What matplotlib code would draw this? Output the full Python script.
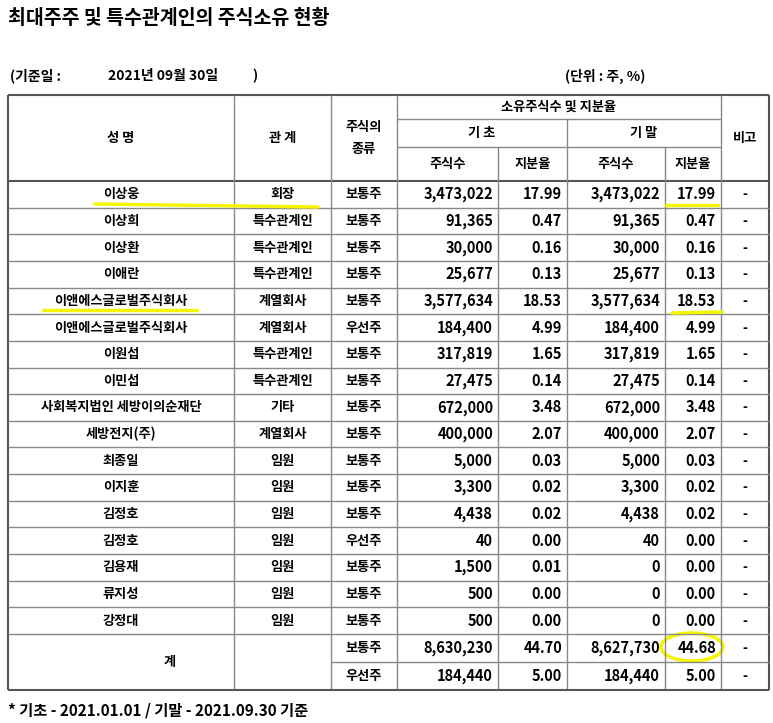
import matplotlib.pyplot as plt
from matplotlib.patches import Ellipse

plt.rcParams['font.family'] = ['Noto Sans CJK KR', 'Noto Sans CJK JP', 'Noto Sans CJK SC', 'DejaVu Sans']

names = ['이상웅', '이상희', '이상환', '이애란', '이앤에스글로벌주식회사', '이앤에스글로벌주식회사',
         '이원섭', '이민섭', '사회복지법인 세방이의순재단', '세방전지(주)', '최종일', '이지훈',
         '김정호', '김정호', '김용재', '류지성', '강정대']
relations = ['회장', '특수관계인', '특수관계인', '특수관계인', '계열회사', '계열회사', '특수관계인',
             '특수관계인', '기타', '계열회사', '임원', '임원', '임원', '임원', '임원', '임원', '임원']
kinds = ['보통주', '보통주', '보통주', '보통주', '보통주', '우선주', '보통주', '보통주', '보통주',
         '보통주', '보통주', '보통주', '보통주', '우선주', '보통주', '보통주', '보통주']
start_shares = [3473022, 91365, 30000, 25677, 3577634, 184400, 317819, 27475, 672000,
                400000, 5000, 3300, 4438, 40, 1500, 500, 500]
start_pct = [17.99, 0.47, 0.16, 0.13, 18.53, 4.99, 1.65, 0.14, 3.48, 2.07, 0.03, 0.02,
             0.02, 0.00, 0.01, 0.00, 0.00]
end_shares = [3473022, 91365, 30000, 25677, 3577634, 184400, 317819, 27475, 672000,
              400000, 5000, 3300, 4438, 40, 0, 0, 0]
end_pct = [17.99, 0.47, 0.16, 0.13, 18.53, 4.99, 1.65, 0.14, 3.48, 2.07, 0.03, 0.02,
           0.02, 0.00, 0.00, 0.00, 0.00]
total_kinds = ['보통주', '우선주']
total_start_shares = [8630230, 184440]
total_start_pct = [44.70, 5.00]
total_end_shares = [8627730, 184440]
total_end_pct = [44.68, 5.00]

W, H = 773, 723
fig = plt.figure(figsize=(W / 100, H / 100), dpi=100)
ax = fig.add_axes([0, 0, 1, 1])
ax.set_xlim(0, W)
ax.set_ylim(H, 0)
ax.axis('off')

# column edges and rows
xs = [8, 234, 331, 397, 498, 567, 665, 721, 769]
top, hdr = 95, 181
step = (634 - hdr) / 17
row_y = [hdr + i * step for i in range(18)]
tot_y = [634, 662, 690]

line = dict(color='#888888', lw=1.0)
fs = 9.5

ax.text(8, 18, '최대주주 및 특수관계인의 주식소유 현황', fontsize=14, fontweight='bold', va='center')
ax.text(10, 76, '(기준일 :', fontsize=10, fontweight='bold', va='center')
ax.text(108, 76, '2021년 09월 30일', fontsize=10, fontweight='bold', va='center')
ax.text(252, 76, ')', fontsize=10, fontweight='bold', va='center')
ax.text(645, 76, '(단위 : 주, %)', fontsize=10, fontweight='bold', va='center', ha='right')

# header
h1, h2 = top + (hdr - top) * 0.28, top + (hdr - top) * 0.6
ax.hlines(top, xs[0], xs[-1], color='#555555', lw=1.5)
ax.hlines(h1, xs[3], xs[7], **line)
ax.hlines(h2, xs[3], xs[7], **line)
ax.hlines(hdr, xs[0], xs[-1], color='#555555', lw=1.5)
for x in [xs[1], xs[2], xs[3], xs[7]]:
    ax.vlines(x, top, tot_y[-1], **line)
ax.vlines(xs[5], h1, tot_y[-1], **line)
for x in [xs[4], xs[6]]:
    ax.vlines(x, h2, tot_y[-1], **line)
ax.vlines(xs[0], top, tot_y[-1], color='#555555', lw=1.5)
ax.vlines(xs[-1], top, tot_y[-1], color='#555555', lw=1.5)

def cx(i):
    return (xs[i] + xs[i + 1]) / 2

mid = (top + hdr) / 2
ax.text(cx(0), mid, '성 명', ha='center', va='center', fontsize=fs, fontweight='bold')
ax.text(cx(1), mid, '관 계', ha='center', va='center', fontsize=fs, fontweight='bold')
ax.text(cx(2), mid, '주식의\n종류', ha='center', va='center', fontsize=fs, fontweight='bold', linespacing=1.8)
ax.text(cx(7), mid, '비고', ha='center', va='center', fontsize=fs, fontweight='bold')
ax.text((xs[3] + xs[7]) / 2, (top + h1) / 2, '소유주식수 및 지분율', ha='center', va='center', fontsize=fs, fontweight='bold')
ax.text((xs[3] + xs[5]) / 2, (h1 + h2) / 2, '기 초', ha='center', va='center', fontsize=fs, fontweight='bold')
ax.text((xs[5] + xs[7]) / 2, (h1 + h2) / 2, '기 말', ha='center', va='center', fontsize=fs, fontweight='bold')
for i, t in zip(range(3, 7), ['주식수', '지분율', '주식수', '지분율']):
    ax.text(cx(i), (h2 + hdr) / 2, t, ha='center', va='center', fontsize=fs, fontweight='bold')

def num(v):
    return f'{v:,}'

def cells(y, vals):
    ax.text(cx(2), y, vals[0], ha='center', va='center', fontsize=fs, fontweight='bold')
    for i, v in zip(range(3, 7), vals[1:5]):
        ax.text(xs[i + 1] - 5, y, v, ha='right', va='center', fontsize=10.5, fontweight='bold')
    ax.text(cx(7), y, '-', ha='center', va='center', fontsize=fs, fontweight='bold')

for r in range(17):
    y = (row_y[r] + row_y[r + 1]) / 2
    if r > 0:
        ax.hlines(row_y[r], xs[0], xs[-1], **line)
    ax.text(cx(0), y, names[r], ha='center', va='center', fontsize=fs, fontweight='bold')
    ax.text(cx(1), y, relations[r], ha='center', va='center', fontsize=fs, fontweight='bold')
    cells(y, [kinds[r], num(start_shares[r]), f'{start_pct[r]:.2f}',
              num(end_shares[r]), f'{end_pct[r]:.2f}'])

ax.hlines(tot_y[0], xs[0], xs[-1], **line)
ax.hlines(tot_y[1], xs[2], xs[-1], **line)
ax.hlines(tot_y[2], xs[0], xs[-1], color='#555555', lw=1.5)
ax.text((xs[0] + xs[2]) / 2, (tot_y[0] + tot_y[2]) / 2, '계', ha='center', va='center', fontsize=fs, fontweight='bold')
for k in range(2):
    y = (tot_y[k] + tot_y[k + 1]) / 2
    cells(y, [total_kinds[k], num(total_start_shares[k]), f'{total_start_pct[k]:.2f}',
              num(total_end_shares[k]), f'{total_end_pct[k]:.2f}'])

# yellow highlight marks
yel = '#f5f500'
ax.plot([95, 318], [204, 207], color=yel, lw=2.5, solid_capstyle='round')
ax.plot([666, 718], [205, 205], color=yel, lw=2.5, solid_capstyle='round')
ax.plot([43, 197], [310, 310], color=yel, lw=2.5, solid_capstyle='round')
ax.plot([672, 722], [313, 312], color=yel, lw=2.5, solid_capstyle='round')
ax.add_patch(Ellipse((692, 647), 62, 28, fill=False, edgecolor=yel, lw=2.5))

ax.text(8, 710, '* 기초 - 2021.01.01 / 기말 - 2021.09.30 기준', fontsize=11, fontweight='bold', va='center')

fig.savefig('out.png', dpi=100, facecolor='white')
